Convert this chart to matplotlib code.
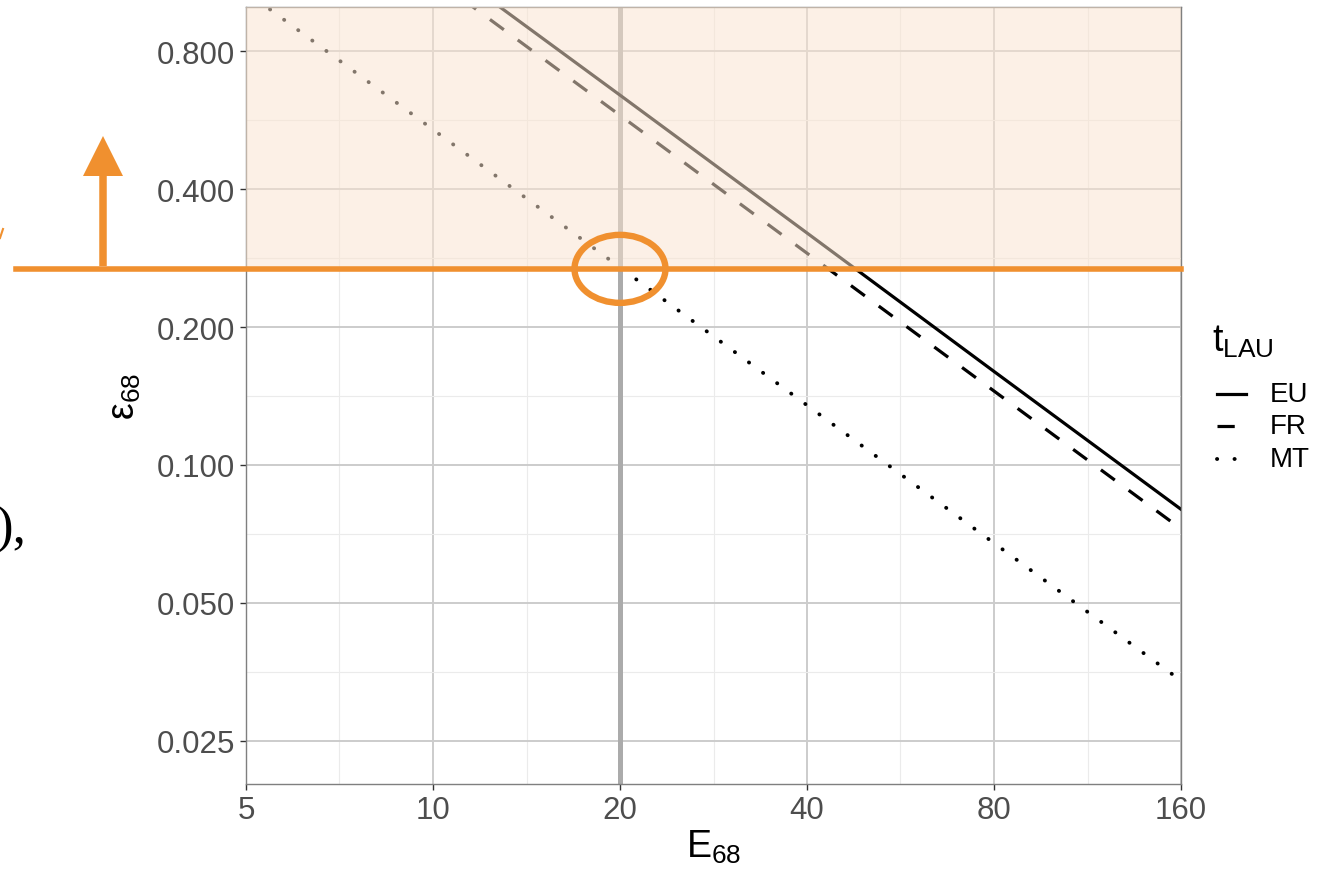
import matplotlib
matplotlib.use("Agg")
import matplotlib.pyplot as plt
import matplotlib.transforms as mtransforms
import numpy as np
from matplotlib.lines import Line2D
from matplotlib.patches import Ellipse, FancyArrow

plt.rcParams["font.family"] = ["Liberation Sans", "DejaVu Sans"]
plt.rcParams["mathtext.fontset"] = "custom"
plt.rcParams["mathtext.rm"] = "Liberation Sans"
plt.rcParams["mathtext.it"] = "Liberation Sans:italic"

W, H = 1320, 870
ORANGE, SHADE = "#F0902F", "#FBE4CF"

# --- values ---
E68 = [5, 10, 20, 40, 80, 160]
EU = [2.57, 1.28, 0.642, 0.321, 0.160, 0.080]
FR = [2.32, 1.16, 0.580, 0.290, 0.145, 0.0725]
MT = [1.08, 0.54, 0.270, 0.135, 0.0675, 0.0338]
# (name, values, linestyle, linewidth, capstyle)
SERIES = [("EU", EU, "-", 2.3, "butt"),
          ("FR", FR, (0, (5.4, 5.4)), 2.3, "butt"),
          ("MT", MT, (0, (0.05, 4.45)), 2.8, "round")]
X_TICKS = [5, 10, 20, 40, 80, 160]
Y_TICKS = [0.025, 0.05, 0.1, 0.2, 0.4, 0.8]
Y_LABELS = ["0.025", "0.050", "0.100", "0.200", "0.400", "0.800"]
THRESHOLD = 0.268
E_MARK = 20


def px(x, y):
    return x / W, 1 - y / H


fig = plt.figure(figsize=(W / 100, H / 100), dpi=100)
ax = fig.add_axes([246 / W, 1 - 785 / H, 935 / W, 777 / H])
ax.set_xscale("log"); ax.set_yscale("log")

ax.set_xticks(X_TICKS); ax.set_xticklabels([str(t) for t in X_TICKS])
ax.set_yticks(Y_TICKS); ax.set_yticklabels(Y_LABELS)
ax.set_xticks(np.array(X_TICKS[:-1]) * np.sqrt(2), minor=True)
ax.set_yticks(np.array(Y_TICKS[:-1]) * np.sqrt(2), minor=True)
ax.set_xticklabels([], minor=True); ax.set_yticklabels([], minor=True)
ax.tick_params(which="major", labelsize=22.5, labelcolor="#4D4D4D", color="#333333",
               length=4, width=1, pad=4)
ax.tick_params(which="minor", length=0)
ax.grid(which="major", color="#CCCCCC", lw=1.4, zorder=0)
ax.grid(which="minor", color="#EBEBEB", lw=0.8, zorder=0)
ax.set_axisbelow(True)
for s in ax.spines.values():
    s.set_color("#7F7F7F"); s.set_linewidth(1)

ax.axvline(E_MARK, color="#ABABAB", lw=3.6, zorder=1)
for name, vals, ls, lw, cap in SERIES:
    ax.plot(E68, vals, color="black", lw=lw, ls=ls, dash_capstyle=cap, zorder=2)
ax.axhspan(THRESHOLD, 1.0, color=SHADE, alpha=0.52, lw=0, zorder=3)
ax.set_xlim(5, 160); ax.set_ylim(0.0201, 1.0)

ax.set_xlabel(r"$\mathregular{E_{68}}$", fontsize=27, labelpad=2)
ax.set_ylabel(r"$\mathregular{ε_{68}}$", fontsize=27, labelpad=10)

# orange annotations
trans = mtransforms.blended_transform_factory(fig.transFigure, ax.transData)
fig.add_artist(Line2D([16 / W, 1181 / W], [THRESHOLD, THRESHOLD], color=ORANGE,
                      lw=4, transform=trans, zorder=5))
etrans = fig.dpi_scale_trans + mtransforms.ScaledTranslation(E_MARK, THRESHOLD, ax.transData)
ax.add_patch(Ellipse((0, 0), 0.91, 0.68, transform=etrans, fill=False,
                     edgecolor=ORANGE, lw=4.6, zorder=6, clip_on=False))
x0, y0 = px(103, 267)
_, y1 = px(103, 137)
fig.add_artist(FancyArrow(x0, y0, 0, y1 - y0, width=7.5 / W, head_width=40 / W,
                          head_length=40 / H, length_includes_head=True,
                          color=ORANGE, lw=0, transform=fig.transFigure))
fig.add_artist(Line2D([0 / W, 3 / W], [1 - 239 / H, 1 - 230 / H], color=ORANGE, lw=1.5))
fig.text(-5 / W, 1 - 543 / H, "),", fontsize=38, family="Liberation Serif",
         va="baseline", ha="left", color="black")

# legend
fig.text(*px(1212, 352), r"$\mathregular{t_{LAU}}$", fontsize=27, va="baseline", ha="left")
for (name, vals, ls, lw, cap), yy in zip(SERIES, [395, 427, 460]):
    xa, ya = px(1217, yy)
    xb, _ = px(1246, yy)
    fig.add_artist(Line2D([xa, xb], [ya, ya], color="black", lw=lw, ls=ls,
                          dash_capstyle=cap))
    fig.text(*px(1270, yy), name, fontsize=20, va="center", ha="left")

fig.savefig("out.png", dpi=100)
